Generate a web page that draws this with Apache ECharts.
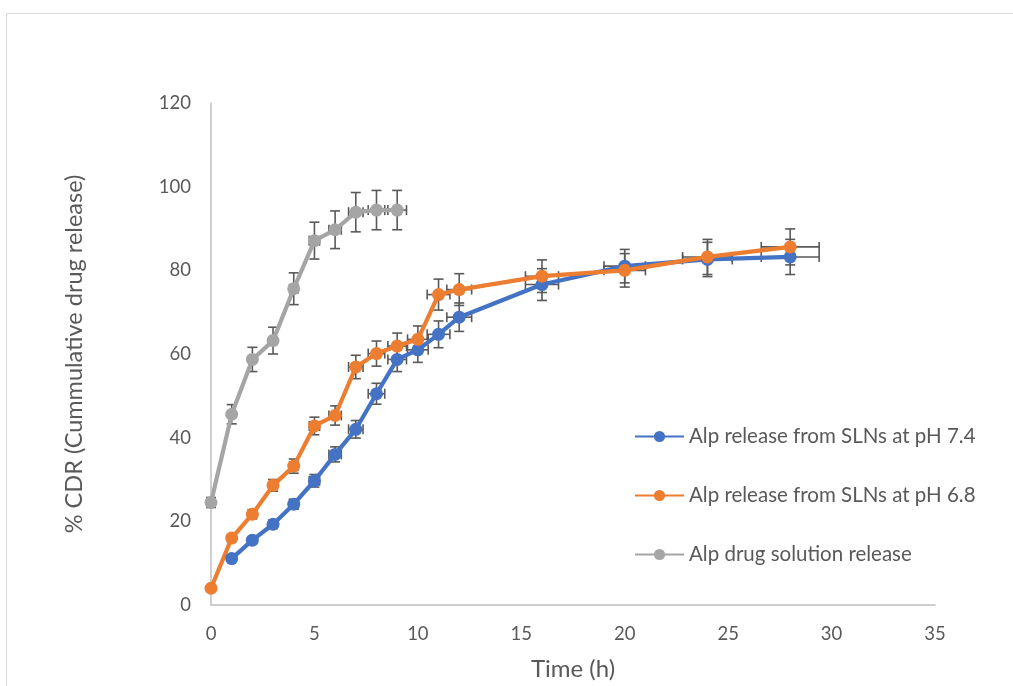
<!DOCTYPE html>
<html>
<head>
<meta charset="utf-8">
<script src="https://cdn.jsdelivr.net/npm/echarts@6/dist/echarts.min.js"></script>
<style>
  html, body { margin: 0; padding: 0; background: #ffffff; }
  #chart { width: 1013px; height: 686px; }
</style>
</head>
<body>
<div id="chart"></div>
<script>
// Release profile data: time (h), % cumulative drug release, and error bars
const seriesNames = [
  'Alp release from SLNs at pH 7.4',
  'Alp release from SLNs at pH 6.8',
  'Alp drug solution release'
];

const timePh74 = [1, 2, 3, 4, 5, 6, 7, 8, 9, 10, 11, 12, 16, 20, 24, 28];
const cdrPh74 = [11.1, 15.5, 19.3, 24.1, 29.7, 36.0, 42.0, 50.5, 58.7, 61.0, 64.7, 68.8, 76.6, 81.0, 82.6, 83.2];
const yErrPh74 = [0.6, 0.8, 1.0, 1.2, 1.5, 1.8, 2.1, 2.5, 2.9, 3.0, 3.2, 3.4, 3.8, 4.0, 4.1, 4.2];
const xErrPh74 = [0.05, 0.1, 0.15, 0.2, 0.25, 0.3, 0.35, 0.4, 0.45, 0.5, 0.55, 0.6, 0.8, 1.0, 1.2, 1.4];

const timePh68 = [0, 1, 2, 3, 4, 5, 6, 7, 8, 9, 10, 11, 12, 16, 20, 24, 28];
const cdrPh68 = [4.0, 16.0, 21.7, 28.6, 33.2, 42.8, 45.3, 56.9, 60.1, 61.9, 63.5, 74.2, 75.4, 78.6, 80.0, 83.2, 85.6];
const yErrPh68 = [0.2, 0.8, 1.1, 1.4, 1.7, 2.1, 2.3, 2.8, 3.0, 3.1, 3.2, 3.7, 3.8, 3.9, 4.0, 4.2, 4.3];
const xErrPh68 = [0, 0.05, 0.1, 0.15, 0.2, 0.25, 0.3, 0.35, 0.4, 0.45, 0.5, 0.55, 0.6, 0.8, 1.0, 1.2, 1.4];

const timeSolution = [0, 1, 2, 3, 4, 5, 6, 7, 8, 9];
const cdrSolution = [24.5, 45.6, 58.7, 63.2, 75.6, 87.1, 89.7, 93.9, 94.4, 94.4];
const yErrSolution = [1.2, 2.3, 2.9, 3.2, 3.8, 4.4, 4.5, 4.7, 4.7, 4.7];
const xErrSolution = [0, 0.05, 0.1, 0.15, 0.2, 0.25, 0.3, 0.35, 0.4, 0.45];

const xTicks = [0, 5, 10, 15, 20, 25, 30, 35];
const yTicks = [0, 20, 40, 60, 80, 100, 120];

const colors = ['#4472C4', '#ED7D31', '#A5A5A5'];
const textColor = '#595959';
const fontFamily = 'Lato, "Open Sans", sans-serif';

function zip(xs, ys) { return xs.map((x, i) => [x, ys[i]]); }
function errData(xs, ys, ye, xe) { return xs.map((x, i) => [x, ys[i], ye[i], xe[i]]); }

// Draws symmetric x and y error bars with end caps
function renderErrorBar(params, api) {
  const x = api.value(0), y = api.value(1), ey = api.value(2), ex = api.value(3);
  const c = api.coord([x, y]);
  const top = api.coord([x, y + ey]);
  const bot = api.coord([x, y - ey]);
  const left = api.coord([x - ex, y]);
  const right = api.coord([x + ex, y]);
  const cap = 5;
  const style = { stroke: '#595959', lineWidth: 1.6 };
  const seg = (x1, y1, x2, y2) => ({ type: 'line', shape: { x1, y1, x2, y2 }, style });
  return {
    type: 'group',
    children: [
      seg(c[0], top[1], c[0], bot[1]),
      seg(c[0] - cap, top[1], c[0] + cap, top[1]),
      seg(c[0] - cap, bot[1], c[0] + cap, bot[1]),
      seg(left[0], c[1], right[0], c[1]),
      seg(left[0], c[1] - cap, left[0], c[1] + cap),
      seg(right[0], c[1] - cap, right[0], c[1] + cap)
    ]
  };
}

function lineSeries(name, data, color) {
  return {
    name, type: 'line', data, z: 3,
    symbol: 'circle', symbolSize: 13,
    lineStyle: { color, width: 4.2 },
    itemStyle: { color },
    emphasis: { disabled: true },
    animation: false
  };
}

function errSeries(data) {
  return {
    type: 'custom', data, z: 2,
    renderItem: renderErrorBar,
    encode: { x: 0, y: 1 },
    silent: true, animation: false
  };
}

const chart = echarts.init(document.getElementById('chart'));
chart.setOption({
  backgroundColor: '#ffffff',
  color: colors,
  animation: false,
  graphic: [{
    type: 'rect', silent: true,
    shape: { x: 6.5, y: 13.5, width: 1100, height: 800 },
    style: { fill: 'none', stroke: '#d9d9d9', lineWidth: 1 }
  }],
  grid: { left: 211, right: 78, top: 103, bottom: 80 },
  legend: {
    data: seriesNames,
    orient: 'vertical',
    left: 629, top: 421,
    itemWidth: 49, itemHeight: 14, itemGap: 38,
    textStyle: { color: textColor, fontSize: 20.5, fontFamily }
  },
  xAxis: {
    type: 'value',
    min: xTicks[0], max: xTicks[xTicks.length - 1], interval: 5,
    name: 'Time (h)', nameLocation: 'middle', nameGap: 52,
    nameTextStyle: { color: textColor, fontSize: 24, fontFamily },
    axisLine: { show: true, lineStyle: { color: '#bfbfbf', width: 1.5 } },
    axisTick: { show: false },
    splitLine: { show: false },
    axisLabel: { color: textColor, fontSize: 18.5, fontFamily, margin: 20 }
  },
  yAxis: {
    type: 'value',
    min: yTicks[0], max: yTicks[yTicks.length - 1], interval: 20,
    name: '% CDR (Cummulative drug release)', nameLocation: 'middle', nameGap: 125,
    nameTextStyle: { color: textColor, fontSize: 23.5, fontFamily },
    axisLine: { show: true, lineStyle: { color: '#bfbfbf', width: 1.5 } },
    axisTick: { show: false },
    splitLine: { show: false },
    axisLabel: { color: textColor, fontSize: 18.5, fontFamily, margin: 20 }
  },
  series: [
    errSeries(errData(timePh74, cdrPh74, yErrPh74, xErrPh74)),
    errSeries(errData(timePh68, cdrPh68, yErrPh68, xErrPh68)),
    errSeries(errData(timeSolution, cdrSolution, yErrSolution, xErrSolution)),
    lineSeries(seriesNames[0], zip(timePh74, cdrPh74), colors[0]),
    lineSeries(seriesNames[1], zip(timePh68, cdrPh68), colors[1]),
    lineSeries(seriesNames[2], zip(timeSolution, cdrSolution), colors[2])
  ]
});
</script>
</body>
</html>
